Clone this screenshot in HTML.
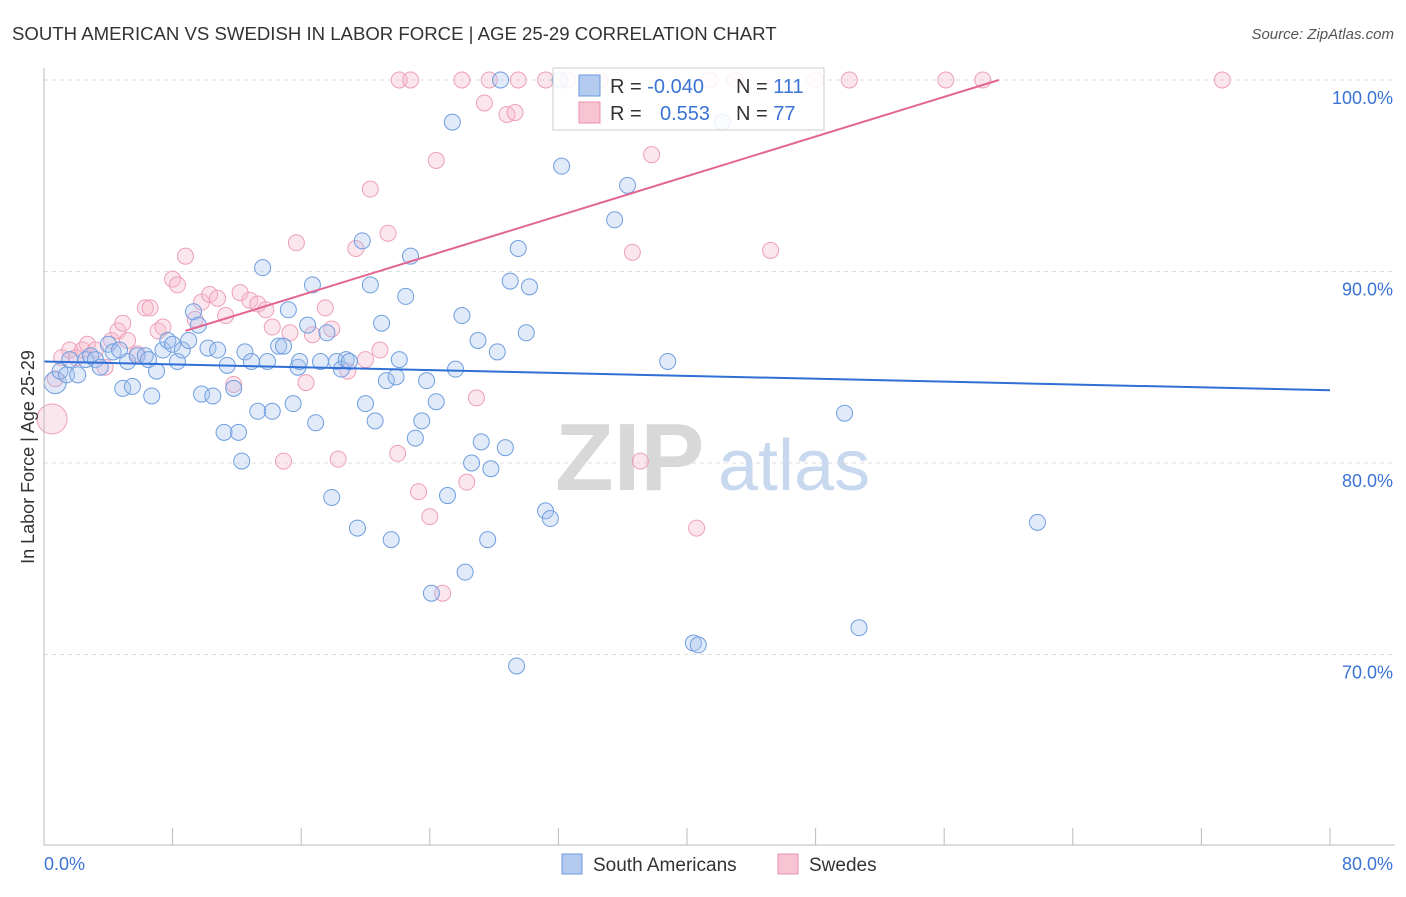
<!DOCTYPE html>
<html><head><meta charset="utf-8"><style>
body{margin:0;background:#fff;font-family:"Liberation Sans",sans-serif;}
svg text{font-family:"Liberation Sans",sans-serif;}
</style></head><body>
<svg id="chart" width="1406" height="892">
<text x="12" y="40" font-size="18.6" fill="#333">SOUTH AMERICAN VS SWEDISH IN LABOR FORCE | AGE 25-29 CORRELATION CHART</text>
<text x="1394" y="39" font-size="15" fill="#555" font-style="italic" text-anchor="end">Source: ZipAtlas.com</text>
<g id="grid"></g>
<g><text x="555" y="490" font-size="96" fill="#d8d8d8" font-family="Liberation Serif" font-weight="bold">ZIP</text><text x="718" y="490" font-size="72" fill="#c8d8ee">atlas</text></g>
<g id="pts"></g>
<g id="lines"></g>
<line x1="44" y1="68" x2="44" y2="845" stroke="#bbb"/>
<line x1="44" y1="845" x2="1395" y2="845" stroke="#bbb"/>
<g id="axes"></g>
<text x="34" y="457" font-size="18" fill="#333" transform="rotate(-90 34 457)" text-anchor="middle">In Labor Force | Age 25-29</text>
<g>
<rect x="553" y="68" width="271" height="62" fill="#fff" fill-opacity="0.85" stroke="#ccc"/>
<rect x="579" y="75" width="21" height="21" fill="#b4cbf0" stroke="#6a9ae0"/>
<rect x="579" y="102" width="21" height="21" fill="#f8c4d4" stroke="#e890aa"/>
<text x="610" y="93" font-size="20" fill="#333">R = <tspan fill="#3a73d4">-0.040</tspan></text>
<text x="736" y="93" font-size="20" fill="#333">N = <tspan fill="#3a73d4">111</tspan></text>
<text x="610" y="120" font-size="20" fill="#333">R = </text><text x="660" y="120" font-size="20" fill="#3a73d4">0.553</text>
<text x="736" y="120" font-size="20" fill="#333">N = <tspan fill="#3a73d4">77</tspan></text>
</g>
<g>
<rect x="562" y="854" width="20" height="20" fill="#b4cbf0" stroke="#6a9ae0"/>
<text x="593" y="871" font-size="19" fill="#333">South Americans</text>
<rect x="778" y="854" width="20" height="20" fill="#f8c4d4" stroke="#e890aa"/>
<text x="809" y="871" font-size="19" fill="#333">Swedes</text>
</g>
</svg>
<script>
const blueX=[0.7,1.0,1.4,1.6,2.1,2.6,2.9,3.2,3.5,4.0,4.3,4.7,4.9,5.2,5.5,5.8,6.3,6.5,6.7,7.0,7.4,7.7,8.0,8.3,8.6,9.0,9.3,9.6,9.8,10.2,10.5,10.8,11.2,11.4,11.8,12.1,12.3,12.5,12.9,13.3,13.6,13.9,14.2,14.6,14.9,15.2,15.5,15.8,15.9,16.4,16.7,16.9,17.2,17.6,17.9,18.2,18.5,18.8,19.0,19.5,19.8,20.0,20.3,20.6,21.0,21.3,21.6,21.9,22.1,22.5,22.8,23.1,23.5,23.8,24.1,24.4,25.1,25.4,25.6,26.0,26.2,26.6,27.0,27.2,27.6,27.8,28.2,28.7,29.0,29.4,29.5,30.0,30.2,31.2,31.5,32.2,35.5,36.3,38.8,40.4,40.7,42.2,49.8,50.7,61.8,28.4,32.1];
const blueY=[84.2,84.8,84.6,85.4,84.6,85.4,85.6,85.4,85.0,86.2,85.8,85.9,83.9,85.3,84.0,85.6,85.6,85.4,83.5,84.8,85.9,86.4,86.2,85.3,85.9,86.4,87.9,87.2,83.6,86.0,83.5,85.9,81.6,85.1,83.9,81.6,80.1,85.8,85.3,82.7,90.2,85.3,82.7,86.1,86.1,88.0,83.1,85.0,85.3,87.2,89.3,82.1,85.3,86.8,78.2,85.3,84.9,85.4,85.3,76.6,91.6,83.1,89.3,82.2,87.3,84.3,76.0,84.5,85.4,88.7,90.8,81.3,82.2,84.3,73.2,83.2,78.3,97.8,84.9,87.7,74.3,80.0,86.4,81.1,76.0,79.7,85.8,80.8,89.5,69.4,91.2,86.8,89.2,77.5,77.1,95.5,92.7,94.5,85.3,70.6,70.5,97.8,82.6,71.4,76.9,100,100];
const pinkX=[0.5,0.7,1.1,1.6,2.0,2.4,2.7,3.2,3.8,4.2,4.6,4.9,5.2,5.8,6.3,6.6,7.1,7.4,8.0,8.3,8.8,9.4,9.8,10.3,10.8,11.3,11.8,12.2,12.8,13.3,13.8,14.2,14.9,15.3,15.7,16.3,16.7,17.5,17.9,18.3,18.9,19.4,20.0,20.3,20.9,21.4,22.0,22.1,22.8,23.3,24.0,24.4,24.8,26.0,26.3,26.9,27.4,27.7,28.8,29.3,29.5,32.6,34.6,36.6,37.1,37.8,40.6,43.0,45.2,48.0,50.1,56.1,58.4,73.3,31.2,41.4];
const pinkY=[82.3,84.4,85.5,85.9,85.5,85.9,86.2,85.9,85.0,86.4,86.9,87.3,86.4,85.7,88.1,88.1,86.9,87.1,89.6,89.3,90.8,87.5,88.4,88.8,88.6,87.7,84.1,88.9,88.5,88.3,88.0,87.1,80.1,86.8,91.5,84.2,86.7,88.1,87.0,80.2,84.8,91.2,85.4,94.3,85.9,92.0,80.5,100,100,78.5,77.2,95.8,73.2,100,79.0,83.4,98.8,100,98.2,98.3,100,100,100,91.0,80.1,96.1,76.6,100,91.1,100,100,100,100,100,100,100];
const blueTrendX=[0,80], blueTrendY=[85.3,83.8];
const pinkTrendX=[8.8,59.4], pinkTrendY=[86.9,100];
const yTicks=[100,90,80,70];
const yTickLabels=["100.0%","90.0%","80.0%","70.0%"];
const xTickVals=[0,8,16,24,32,40,48,56,64,72,80];

const X=v=>44+v*16.075, Y=v=>80+(100-v)*19.15;
const NS="http://www.w3.org/2000/svg";
function mk(tag,attrs,parent){const e=document.createElementNS(NS,tag);for(const k in attrs)e.setAttribute(k,attrs[k]);parent.appendChild(e);return e;}
const grid=document.getElementById('grid'), axes=document.getElementById('axes'), pts=document.getElementById('pts'), lines=document.getElementById('lines');
yTicks.forEach((t,i)=>{
  const l=mk('line',{x1:44,x2:1395,y1:Y(t),y2:Y(t),stroke:'#ddd','stroke-dasharray':'4,4'},grid);
  
  
  const tx=mk('text',{x:1393,y:Y(t)+24,'font-size':18,fill:'#3a73d4','text-anchor':'end'},axes);
  tx.textContent=yTickLabels[i];
  
  
});
xTickVals.forEach(t=>{
  const l=mk('line',{x1:X(t),x2:X(t),y1:828,y2:845,stroke:'#bbb'},axes);
  
  
});
const x0=mk('text',{x:44,y:870,'font-size':18,fill:'#3a73d4'},axes);x0.textContent='0.0%';


const x1=mk('text',{x:1393,y:870,'font-size':18,fill:'#3a73d4','text-anchor':'end'},axes);x1.textContent='80.0%';


pinkX.forEach((v,i)=>{
  const c=mk('circle',{cx:X(v),cy:Y(pinkY[i]),r:i===0?15:8,fill:'#f6b8cb','fill-opacity':0.35,stroke:'#eda0b8','stroke-width':1},pts);
  
  
});
blueX.forEach((v,i)=>{
  const c=mk('circle',{cx:X(v),cy:Y(blueY[i]),r:i===0?11:8,fill:'#a8c4ee','fill-opacity':0.35,stroke:'#6f9ee0','stroke-width':1},pts);
  
  
});
const bl=mk('line',{x1:X(blueTrendX[0]),y1:Y(blueTrendY[0]),x2:X(blueTrendX[1]),y2:Y(blueTrendY[1]),stroke:'#2f6fd6','stroke-width':2},lines);


const pl=mk('line',{x1:X(pinkTrendX[0]),y1:Y(pinkTrendY[0]),x2:X(pinkTrendX[1]),y2:Y(pinkTrendY[1]),stroke:'#e36592','stroke-width':2},lines);


</script>
</body></html>
